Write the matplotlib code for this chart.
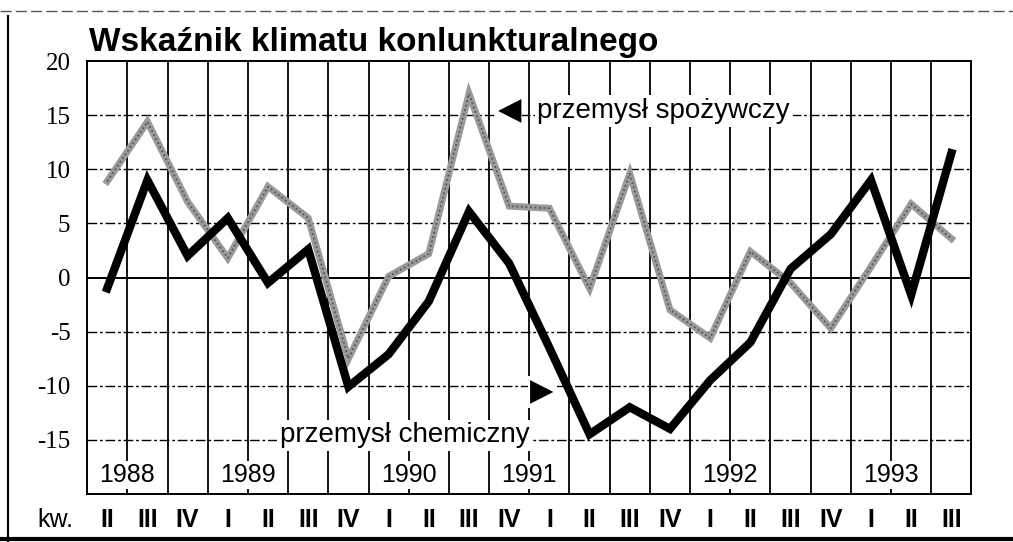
import numpy as np
import matplotlib.pyplot as plt
from matplotlib.lines import Line2D

# dane (kwartaly 1988 II - 1993 III)
quarters = ['II', 'III', 'IV', 'I', 'II', 'III', 'IV', 'I', 'II', 'III', 'IV',
            'I', 'II', 'III', 'IV', 'I', 'II', 'III', 'IV', 'I', 'II', 'III']
chemiczny = [-1, 9, 2, 5.5, -0.5, 2.6, -10.1, -7.1, -2.2, 6.1, 1.3,
             -6.5, -14.5, -12, -14, -9.5, -6, 0.8, 4, 9, -1.6, 11.5]
spozywczy = [8.9, 14.4, 7, 1.8, 8.4, 5.5, -7.5, 0.1, 2.2, 17, 6.6,
             6.4, -1, 9.6, -3, -5.6, 2.4, -0.5, -4.7, 1, 6.8, 3.6]
years = ['1988', '1989', '1990', '1991', '1992', '1993']
year_lines = [1, 4, 8, 11, 16, 20]
yticks = [20, 15, 10, 5, 0, -5, -10, -15]

fig = plt.figure(figsize=(10.13, 5.42), dpi=100)
ax = fig.add_axes([0.086, 0.089, 0.873, 0.798])

x = np.arange(len(quarters)) + 0.5
ax.set_xlim(0, len(quarters))
ax.set_ylim(-20, 20)

# siatka
for k in range(1, len(quarters)):
    ax.axvline(k, color='black', lw=1.3, zorder=1)
for v in range(-15, 20, 5):
    if v == 0:
        ax.axhline(v, color='black', lw=1.4, zorder=1)
    else:
        ax.axhline(v, color='black', lw=1.0, ls=(0, (7, 2, 2, 2)), zorder=1)

ax.plot(x, spozywczy, color='#9a9a9a', lw=5, solid_joinstyle='miter', zorder=3)
ax.plot(x, spozywczy, color='#555555', lw=1.3, ls=(0, (1, 1.5)), zorder=3)
ax.plot(x, chemiczny, color='black', lw=6, solid_joinstyle='miter', zorder=4)

# lata
for yl, yr in zip(year_lines, years):
    ax.text(yl, -18.3, yr, ha='center', va='center', fontsize=18,
            family='Liberation Sans', zorder=2,
            bbox=dict(facecolor='white', edgecolor='none', pad=1.5))

# opisy serii
ax.text(10.5, 15.4, '\u25c0', ha='center', va='center', fontsize=22, zorder=5,
        family='DejaVu Sans',
        bbox=dict(facecolor='white', edgecolor='none', pad=1))
ax.text(11.2, 15.4, 'przemysł spożywczy', ha='left', va='center', fontsize=20,
        family='Liberation Sans', zorder=5,
        bbox=dict(facecolor='white', edgecolor='none', pad=2))
ax.text(11.3, -10.6, '\u25b6', ha='center', va='center', fontsize=22, zorder=5,
        family='DejaVu Sans',
        bbox=dict(facecolor='white', edgecolor='none', pad=1))
ax.text(11.0, -14.6, 'przemysł chemiczny', ha='right', va='center', fontsize=20,
        family='Liberation Sans', zorder=5,
        bbox=dict(facecolor='white', edgecolor='none', pad=2))

# osie
ax.set_yticks(yticks)
ax.set_yticklabels([str(t) for t in yticks], family='Liberation Serif', fontsize=18)
ax.set_xticks(x)
ax.set_xticklabels(quarters, family='Liberation Sans', fontsize=18, fontweight='bold')
ax.tick_params(length=0, pad=12)
ax.tick_params(axis='x', pad=10)
for s in ax.spines.values():
    s.set_linewidth(1.4)

fig.text(0.037, 0.04, 'kw.', fontsize=18, family='Liberation Sans', va='center')
fig.text(0.088, 0.922, 'Wskaźnik klimatu konlunkturalnego', fontsize=24,
         fontweight='bold', family='Liberation Sans', va='center')

# ramka
fig.add_artist(Line2D([0.008, 0.008], [0.0, 0.97], color='black', lw=1.5))
fig.add_artist(Line2D([0.0, 1.0], [0.98, 0.98], color='#555555', lw=1, ls=(0, (8, 3))))
fig.add_artist(Line2D([0.0, 1.0], [0.006, 0.006], color='black', lw=3))

fig.savefig('out.png', dpi=100)
